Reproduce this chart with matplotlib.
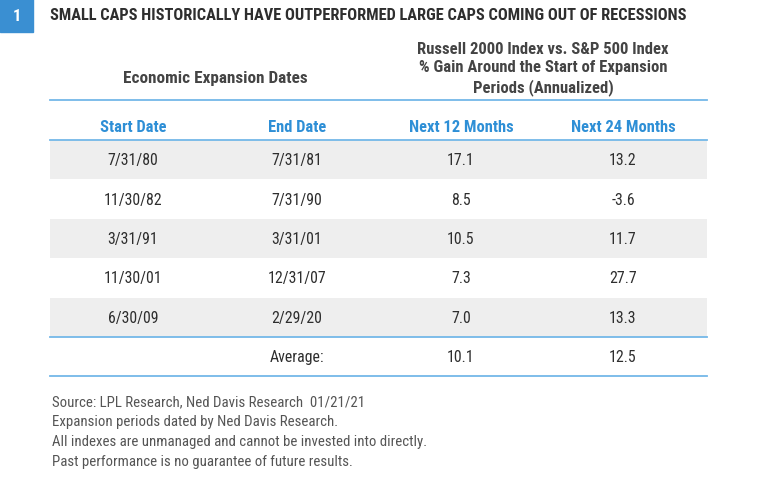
import matplotlib
matplotlib.use("Agg")
import matplotlib.pyplot as plt
from matplotlib import font_manager
from matplotlib.patches import Rectangle

# table data
start_dates = ["7/31/80", "11/30/82", "3/31/91", "11/30/01", "6/30/09"]
end_dates = ["7/31/81", "7/31/90", "3/31/01", "12/31/07", "2/29/20"]
next_12 = [17.1, 8.5, 10.5, 7.3, 7.0]
next_24 = [13.2, -3.6, 11.7, 27.7, 13.3]
avg_12 = 10.1
avg_24 = 12.5
col_headers = ["Start Date", "End Date", "Next 12 Months", "Next 24 Months"]

title = "SMALL CAPS HISTORICALLY HAVE OUTPERFORMED LARGE CAPS COMING OUT OF RECESSIONS"
left_header = "Economic Expansion Dates"
right_header = ("Russell 2000 Index vs. S&P 500 Index\n"
                "% Gain Around the Start of Expansion\n"
                "Periods (Annualized)")
notes = [
    "Source: LPL Research, Ned Davis Research  01/21/21",
    "Expansion periods dated by Ned Davis Research.",
    "All indexes are unmanaged and cannot be invested into directly.",
    "Past performance is no guarantee of future results.",
]

BLUE = "#2e8fd6"
LINE = "#74b8e8"
BAND = "#eeeeee"
DARK = "#2e2e2e"
GREY = "#555555"

# look for a narrow font, the original uses a condensed face
names = {f.name for f in font_manager.fontManager.ttflist}
FONT = "Liberation Sans"
for cand in ["Liberation Sans Narrow", "Roboto Condensed", "DejaVu Sans Condensed"]:
    if cand in names:
        FONT = cand
        break
plt.rcParams["font.family"] = [FONT, "DejaVu Sans"]

fig = plt.figure(figsize=(7.68, 4.81), dpi=100)
ax = fig.add_axes([0, 0, 1, 1])
ax.set_xlim(0, 768)
ax.set_ylim(481, 0)
ax.axis("off")

# number badge + title
ax.add_patch(Rectangle((0, 0), 33, 33, color="#3a8fd2"))
ax.text(16.5, 16.5, "1", color="white", fontsize=12, fontweight="bold",
        ha="center", va="center")
ax.text(50, 16, title, color=DARK, fontsize=11.8, fontweight="bold",
        ha="left", va="center")

# group headers
ax.text(215, 78, left_header, color="#444444", fontsize=12.3,
        fontweight="bold", ha="center", va="center")
ax.text(543, 69, right_header, color="#444444", fontsize=12,
        fontweight="bold", ha="center", va="center", linespacing=1.32)

x0, x1 = 50, 707
col_x = [133, 297, 461, 623]
ax.plot([x0, x1], [101, 101], color=LINE, lw=1.3)
for x, h in zip(col_x, col_headers):
    ax.text(x, 128, h, color=BLUE, fontsize=11.9, fontweight="bold",
            ha="center", va="center")
ax.plot([x0, x1], [141, 141], color=LINE, lw=1.3)

# body rows
top = 141
row_h = 39.4
for i in range(len(start_dates)):
    y = top + i * row_h
    if i % 2 == 0:
        ax.add_patch(Rectangle((x0, y), x1 - x0, row_h, color=BAND, lw=0))
    cy = y + row_h / 2
    vals = [start_dates[i], end_dates[i], f"{next_12[i]:.1f}", f"{next_24[i]:.1f}"]
    for x, v in zip(col_x, vals):
        ax.text(x, cy, v, color=DARK, fontsize=11.4, ha="center", va="center")

y_avg = top + len(start_dates) * row_h
ax.plot([x0, x1], [y_avg, y_avg], color=LINE, lw=1.3)
cy = y_avg + row_h / 2
ax.text(col_x[1], cy, "Average:", color=DARK, fontsize=11.4, ha="center", va="center")
ax.text(col_x[2], cy, f"{avg_12:.1f}", color=DARK, fontsize=11.4, ha="center", va="center")
ax.text(col_x[3], cy, f"{avg_24:.1f}", color=DARK, fontsize=11.4, ha="center", va="center")
ax.plot([x0, x1], [y_avg + row_h, y_avg + row_h], color=LINE, lw=1.3)

# footnotes
for k, line in enumerate(notes):
    ax.text(52, 402 + k * 20, line, color=GREY, fontsize=10.7,
            ha="left", va="center")

fig.savefig("out.png", dpi=100)
